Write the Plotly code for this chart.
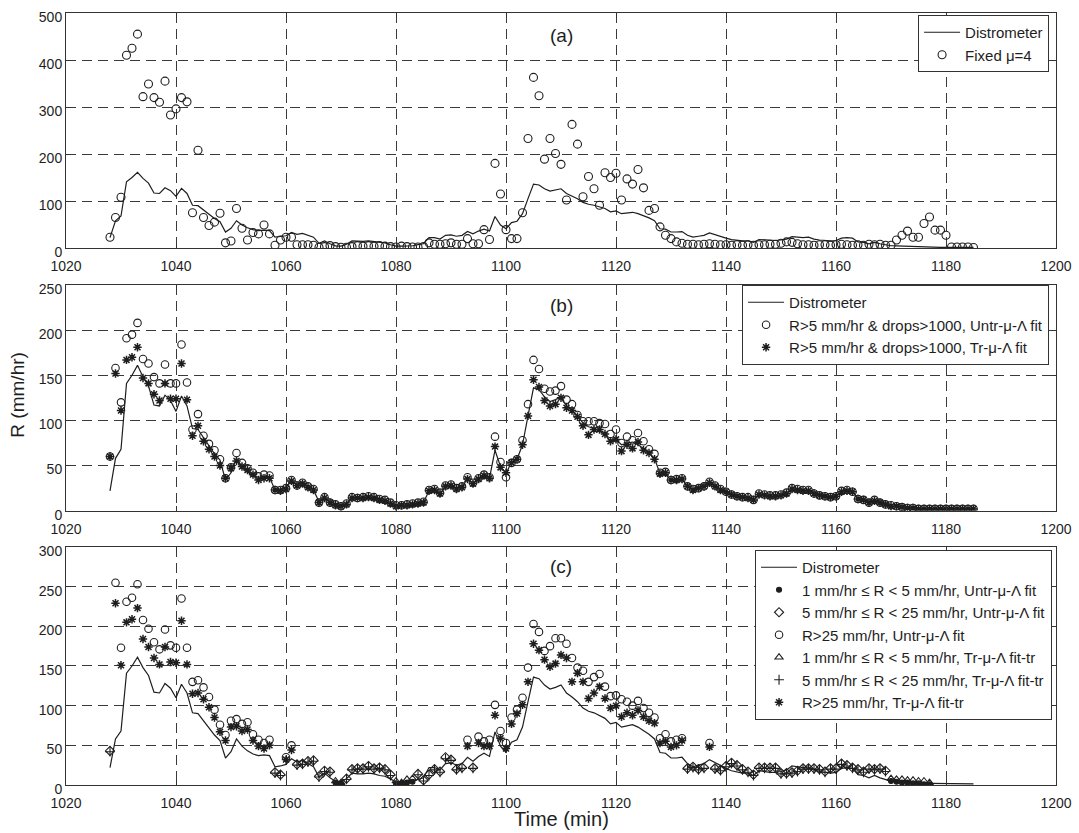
import plotly.graph_objects as go

# ---------------- data ----------------
minutes = list(range(1028, 1186))

distrometer = [
    22, 58, 68, 141, 150, 161, 148, 138, 117, 116,
    128, 122, 110, 127, 116, 91, 90, 81, 71, 63,
    56, 34, 42, 58, 49, 43, 39, 37, 38, 37,
    23, 24, 26, 33, 29, 31, 27, 23, 10, 15,
    9, 4.5, 4, 8, 15, 14, 14, 15, 14, 12,
    11, 7, 4, 4, 4.5, 4.8, 7, 9, 22, 22,
    19, 27, 28, 25, 27, 35, 30, 36, 40, 36,
    67, 49, 41, 54, 57, 73, 105, 136, 134, 126,
    121, 123, 126, 116, 111, 105, 97, 93, 91, 88,
    84, 77, 79, 73, 75, 76, 73, 69, 64, 58,
    41, 40, 34, 34, 35, 27, 23, 25, 27, 32,
    28, 24, 21, 18, 16, 15, 15, 12, 18, 17,
    16, 16, 17, 19, 24, 23, 22, 23, 19, 17,
    16, 15, 16, 21, 22, 21, 13, 12, 9, 12,
    9, 7, 4.8, 4.5, 4, 3, 3, 2, 2, 2,
    2, 1.5, 1.5, 1.5, 1.5, 1.5, 1.5, 1.5,
]

fixed_mu4 = [
    23, 65, 108, 410, 425, 455, 322, 349, 320, 310,
    355, 283, 296, 320, 311, 75, 208, 65, 48, 55,
    74, 11, 15, 84, 42, 17, 33, 30, 49, 30,
    6, 17, 23, 23, 7, 7, 7, 6, 1.5, 3,
    5, 3, 1.5, 1.5, 3, 5, 4, 5, 4, 5,
    4, 3, 2, 4, 3, 2, 2, 3, 11, 8,
    8, 9, 11, 8, 8, 20, 9, 9, 39, 18,
    180, 115, 39, 20, 20, 75, 233, 363, 324, 189,
    233, 201, 178, 102, 263, 221, 109, 152, 126, 91,
    160, 150, 159, 102, 147, 136, 167, 128, 80, 84,
    45, 27, 20, 13, 10, 8, 8, 7, 8, 9,
    8, 7, 7, 6, 7, 6, 7, 6, 7, 7,
    8, 8, 10, 13, 12, 9, 7, 7, 6, 7,
    7, 6, 7, 8, 7, 6, 7, 6, 8, 7,
    8, 6, 6, 17, 27, 36, 23, 23, 52, 66,
    38, 38, 27, 2, 2, 2, 2, 1,
]

b_untr = [
    60, 158, 120, 191, 195, 208, 168, 163, 148, 141,
    162, 141, 141, 184, 142, 90, 107, 83, 74, 67,
    57, 36, 48, 64, 53, 47, 42, 38, 40, 39,
    23, 23, 25, 34, 28, 31, 27, 24, 9, 15,
    9, 7, 5, 8, 15, 14, 15, 16, 15, 13,
    12, 9, 6, 6, 7, 8, 9, 10, 23, 24,
    20, 28, 29, 25, 27, 37, 31, 36, 40, 37,
    82, 54, 37, 53, 57, 78, 118, 167, 157, 135,
    132, 133, 138, 123, 118, 106, 99, 99, 99, 97,
    96, 85, 90, 75, 82, 78, 86, 77, 68, 63,
    42, 43, 34, 35, 36, 27, 24, 25, 27, 32,
    28, 24, 21, 18, 16, 15, 15, 12, 19, 18,
    17, 17, 18, 20, 25, 24, 23, 23, 19, 17,
    16, 15, 16, 22, 23, 21, 13, 12, 9, 12,
    9, 7, 6, 5, 4, 3, 3, 2, 2, 2,
    2, 2, 2, 2, 2, 2, 2, 2,
]

b_tr = [
    60, 152, 111, 167, 170, 181, 147, 141, 129, 122,
    141, 124, 124, 163, 123, 83, 94, 77, 68, 60,
    50, 36, 47, 55, 49, 45, 40, 34, 36, 36,
    23, 22, 24, 33, 28, 30, 26, 23, 9, 14,
    9, 6, 5, 7, 14, 14, 14, 15, 14, 12,
    11, 8, 5, 6, 6, 7, 8, 9, 22, 23,
    19, 27, 28, 24, 26, 35, 30, 35, 39, 36,
    71, 48, 42, 53, 57, 73, 105, 145, 137, 122,
    116, 118, 125, 114, 111, 104, 94, 84, 90, 90,
    85, 77, 79, 66, 73, 69, 76, 67, 64, 57,
    41, 42, 34, 34, 35, 27, 23, 25, 27, 31,
    27, 23, 21, 18, 16, 15, 14, 12, 18, 17,
    16, 16, 17, 19, 24, 23, 22, 22, 19, 17,
    16, 15, 16, 21, 22, 21, 13, 12, 9, 11,
    9, 7, 5, 5, 4, 3, 3, 2, 2, 2,
    2, 2, 2, 2, 2, 2, 2, 2,
]

# panel (c): rain-rate classes
c_hi_t = [
    1029, 1030, 1031, 1032, 1033, 1034, 1035, 1036, 1037, 1038,
    1039, 1040, 1041, 1042, 1043, 1044, 1045, 1046, 1047, 1048,
    1049, 1050, 1051, 1052, 1053, 1054, 1055, 1056, 1057, 1060,
    1061, 1093, 1095, 1096, 1097, 1098, 1099, 1100, 1101, 1102,
    1103, 1104, 1105, 1106, 1107, 1108, 1109, 1110, 1111, 1112,
    1113, 1114, 1115, 1116, 1117, 1118, 1119, 1120, 1121, 1122,
    1123, 1124, 1125, 1126, 1127, 1128, 1129, 1130, 1131, 1132,
    1137,
]
c_hi_untr = [
    255, 173, 231, 236, 253, 208, 197, 180, 171, 196,
    176, 173, 235, 173, 130, 132, 123, 111, 95, 76,
    63, 81, 83, 77, 79, 64, 57, 53, 57, 35,
    50, 57, 61, 55, 57, 101, 68, 53, 85, 95,
    110, 148, 203, 193, 169, 175, 185, 185, 178, 160,
    148, 144, 130, 136, 140, 124, 112, 113, 108, 105,
    100, 106, 97, 91, 85, 59, 64, 55, 57, 59,
    53,
]
c_hi_tr = [
    229, 151, 205, 209, 223, 184, 174, 160, 152, 174,
    155, 154, 207, 152, 115, 116, 108, 98, 85, 67,
    56, 73, 74, 68, 70, 56, 49, 46, 50, 32,
    44, 49, 53, 49, 49, 88, 59, 46, 77, 90,
    101, 130, 178, 170, 158, 149, 153, 164, 160, 130,
    141, 130, 109, 116, 124, 109, 97, 100, 86, 91,
    88, 94, 86, 81, 78, 53, 55, 48, 50, 56,
    48,
]

c_mid_t = [
    1028, 1058, 1059, 1062, 1063, 1064, 1065, 1066, 1067, 1068,
    1071, 1072, 1073, 1074, 1075, 1076, 1077, 1078, 1079, 1084,
    1085, 1086, 1087, 1088, 1089, 1090, 1091, 1092, 1094, 1133,
    1134, 1135, 1136, 1138, 1139, 1140, 1141, 1142, 1143, 1144,
    1145, 1146, 1147, 1148, 1149, 1150, 1151, 1152, 1153, 1154,
    1155, 1156, 1157, 1158, 1159, 1160, 1161, 1162, 1163, 1164,
    1165, 1166, 1167, 1168, 1169,
]
c_mid_untr = [
    43, 16, 13, 26, 27, 30, 31, 11, 18, 17,
    8, 20, 21, 21, 24, 21, 22, 20, 13, 14,
    6, 13, 20, 17, 35, 32, 20, 22, 22, 21,
    23, 20, 22, 21, 19, 24, 28, 25, 20, 17,
    13, 22, 22, 22, 22, 15, 15, 16, 18, 21,
    21, 21, 20, 17, 21, 21, 27, 25, 22, 20,
    17, 21, 20, 21, 18,
]
c_mid_tr = [
    42, 15, 12, 25, 26, 29, 30, 10, 17, 16,
    7, 19, 20, 20, 23, 20, 21, 19, 12, 13,
    5, 12, 19, 16, 33, 31, 19, 21, 21, 20,
    22, 19, 21, 20, 18, 23, 27, 24, 19, 16,
    12, 21, 21, 21, 21, 14, 14, 15, 17, 20,
    20, 20, 19, 16, 20, 20, 26, 24, 21, 19,
    16, 20, 19, 20, 17,
]

c_lo_t = [1069, 1070, 1080, 1081, 1082, 1083, 1170, 1171, 1172, 1173, 1174, 1175, 1176, 1177]
c_lo_untr = [3, 1.5, 2, 1.5, 3, 4, 5, 4, 3, 3, 2, 2, 1, 1]
c_lo_tr = [5, 3, 5, 3, 7, 8, 8, 7, 7, 6, 6, 5, 5, 3]

x_ticks = [1020, 1040, 1060, 1080, 1100, 1120, 1140, 1160, 1180, 1200]
ya_ticks = [0, 100, 200, 300, 400, 500]
yb_ticks = [0, 50, 100, 150, 200, 250]
yc_ticks = [0, 50, 100, 150, 200, 250, 300]

# ---------------- styling ----------------
INK = "#1e1e1e"
FONT = "Arial, 'Liberation Sans', sans-serif"

fig = go.Figure()


def add_line(xa, ya, legend):
    fig.add_trace(go.Scatter(
        x=minutes, y=distrometer, mode="lines", name="Distrometer",
        line=dict(color=INK, width=1.2), xaxis=xa, yaxis=ya, legend=legend,
    ))


def add_markers(t, v, name, symbol, xa, ya, legend, size=7, lw=1.1):
    fig.add_trace(go.Scatter(
        x=t, y=v, mode="markers", name=name, xaxis=xa, yaxis=ya, legend=legend,
        marker=dict(symbol=symbol, size=size, color=INK,
                    line=dict(color=INK, width=lw)),
    ))


# (a)
add_line("x", "y", "legend")
add_markers(minutes, fixed_mu4, "Fixed \u03bc=4", "circle-open", "x", "y", "legend", size=8)

# (b)
add_line("x2", "y2", "legend2")
add_markers(minutes, b_untr, "R>5 mm/hr & drops>1000, Untr-\u03bc-\u039b fit",
            "circle-open", "x2", "y2", "legend2", size=7.5)
add_markers(minutes, b_tr, "R>5 mm/hr & drops>1000, Tr-\u03bc-\u039b fit",
            "asterisk-open", "x2", "y2", "legend2", size=7, lw=1.5)

# (c)
add_line("x3", "y3", "legend3")
add_markers(c_lo_t, c_lo_untr, "1 mm/hr \u2264 R < 5 mm/hr, Untr-\u03bc-\u039b fit",
            "circle", "x3", "y3", "legend3", size=5)
add_markers(c_mid_t, c_mid_untr, "5 mm/hr \u2264 R < 25 mm/hr, Untr-\u03bc-\u039b fit",
            "diamond-open", "x3", "y3", "legend3", size=7)
add_markers(c_hi_t, c_hi_untr, "R>25 mm/hr, Untr-\u03bc-\u039b fit",
            "circle-open", "x3", "y3", "legend3", size=7.5)
add_markers(c_lo_t, c_lo_tr, "1 mm/hr \u2264 R < 5 mm/hr, Tr-\u03bc-\u039b fit-tr",
            "triangle-up-open", "x3", "y3", "legend3", size=7)
add_markers(c_mid_t, c_mid_tr, "5 mm/hr \u2264 R < 25 mm/hr, Tr-\u03bc-\u039b fit-tr",
            "cross-thin-open", "x3", "y3", "legend3", size=7)
add_markers(c_hi_t, c_hi_tr, "R>25 mm/hr, Tr-\u03bc-\u039b fit-tr",
            "asterisk-open", "x3", "y3", "legend3", size=7, lw=1.5)

axis_common = dict(
    showline=True, linecolor="#333", linewidth=1, mirror="ticks",
    ticks="inside", ticklen=5, tickcolor="#333", automargin=False,
    showgrid=True, gridcolor="#3a3a3a", gridwidth=1, griddash="10px,6px",
    zeroline=False, tickfont=dict(family=FONT, size=14, color=INK),
)

xaxis_common = dict(axis_common, range=[1020, 1200], tickvals=x_ticks, domain=[0, 1],
                    ticklabelstandoff=5)
yaxis_common = dict(axis_common, ticklabelshift=4)

legend_common = dict(
    bgcolor="white", bordercolor="#333", borderwidth=1,
    font=dict(family=FONT, size=15, color=INK),
    xanchor="right", yanchor="top", tracegroupgap=0, itemwidth=36,
)

fig.update_layout(
    width=1079, height=833,
    margin=dict(l=66, r=23, t=13, b=48, autoexpand=False),
    plot_bgcolor="white", paper_bgcolor="white",
    font=dict(family=FONT, color=INK),
    xaxis=dict(xaxis_common, anchor="y"),
    xaxis2=dict(xaxis_common, anchor="y2"),
    xaxis3=dict(xaxis_common, anchor="y3"),
    yaxis=dict(yaxis_common, anchor="x", domain=[0.6956, 1.0], range=[0, 500], tickvals=ya_ticks),
    yaxis2=dict(yaxis_common, anchor="x2", domain=[0.3553, 0.6477], range=[0, 250], tickvals=yb_ticks),
    yaxis3=dict(yaxis_common, anchor="x3", domain=[0.0, 0.3083], range=[0, 300], tickvals=yc_ticks),
    legend=dict(legend_common, x=0.993, y=0.9974),
    legend2=dict(legend_common, x=0.993, y=0.6477),
    legend3=dict(legend_common, x=0.996, y=0.3044),
    showlegend=True,
)

# panel letters
for label, xa, ya, yv in [("(a)", "x", "y", 453), ("(b)", "x2", "y2", 227), ("(c)", "x3", "y3", 275)]:
    fig.add_annotation(text=label, x=1110, y=yv, xref=xa, yref=ya, showarrow=False,
                       font=dict(family=FONT, size=19, color=INK))

# axis titles
fig.add_annotation(text="R (mm/hr)", x=-0.049, y=0.505, xref="paper", yref="paper",
                   textangle=-90, showarrow=False, xanchor="center", yanchor="middle",
                   font=dict(family=FONT, size=19, color=INK))
fig.add_annotation(text="Time (min)", x=0.5, y=-0.044, xref="paper", yref="paper",
                   showarrow=False, xanchor="center", yanchor="middle",
                   font=dict(family=FONT, size=20, color=INK))

fig.write_html("out.html")
